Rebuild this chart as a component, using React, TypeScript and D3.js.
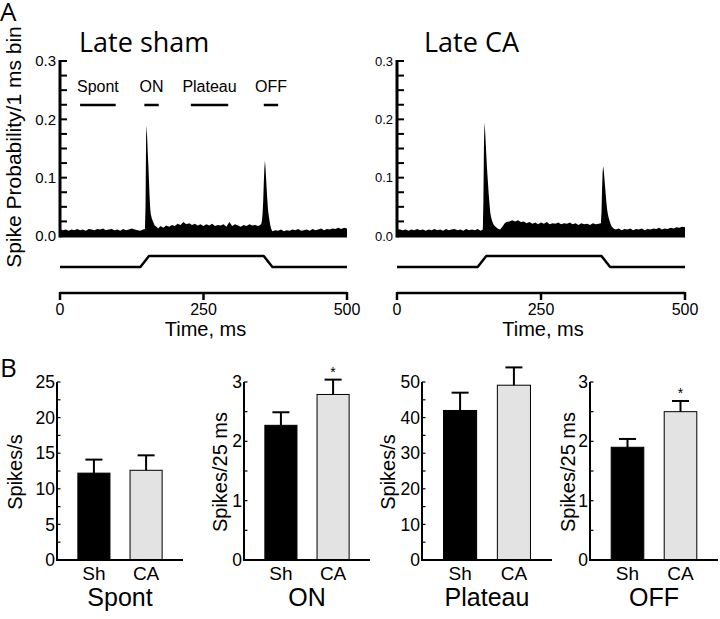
import React from 'react';
import * as d3 from 'd3';

// ---- panel A data ----
const probTicks = [0, 0.1, 0.2, 0.3];
const timeTicks = [0, 250, 500];
const stimTimes = [0, 140, 155, 355, 370, 500];
const stimLevels = [0, 0, 1, 1, 0, 0];
const windowNames = ['Spont', 'ON', 'Plateau', 'OFF'];
const windowStarts = [35, 147, 228, 355];
const windowEnds = [97, 172, 293, 380];

// [time ms, spike probability]
const shamPsth: [number, number][] = [
  [0, 0.012], [5, 0.010], [10, 0.011], [15, 0.009], [20, 0.011], [25, 0.010], [30, 0.012], [35, 0.010],
  [40, 0.011], [45, 0.009], [50, 0.012], [55, 0.011], [60, 0.010], [65, 0.012], [70, 0.011], [75, 0.013],
  [80, 0.010], [85, 0.011], [90, 0.012], [95, 0.010], [100, 0.011], [105, 0.009], [110, 0.012], [115, 0.010],
  [120, 0.011], [125, 0.013], [130, 0.011], [135, 0.010], [140, 0.009], [145, 0.011], [148, 0.012],
  [149, 0.05], [150, 0.17], [151, 0.19], [152, 0.165], [153, 0.14], [154, 0.12], [155, 0.095], [156, 0.07],
  [157, 0.05], [158, 0.038], [160, 0.03], [162, 0.025], [165, 0.018], [168, 0.016], [171, 0.013],
  [175, 0.017], [180, 0.014], [185, 0.018], [190, 0.016], [195, 0.019], [200, 0.017], [205, 0.021],
  [210, 0.019], [215, 0.024], [220, 0.020], [225, 0.022], [230, 0.019], [235, 0.021], [240, 0.018],
  [245, 0.020], [250, 0.017], [255, 0.020], [260, 0.018], [265, 0.021], [270, 0.017], [275, 0.019],
  [280, 0.018], [285, 0.020], [290, 0.016], [295, 0.024], [300, 0.017], [305, 0.020], [310, 0.018],
  [315, 0.016], [320, 0.019], [325, 0.017], [330, 0.020], [335, 0.018], [340, 0.019], [345, 0.017],
  [349, 0.019], [351, 0.022], [352, 0.028], [353, 0.04], [354, 0.06], [355, 0.09], [356, 0.115],
  [357, 0.129], [358, 0.118], [359, 0.10], [360, 0.082], [361, 0.065], [362, 0.05], [363, 0.04],
  [364, 0.033], [366, 0.02], [368, 0.012], [370, 0.008], [375, 0.010], [380, 0.009], [385, 0.011],
  [390, 0.008], [395, 0.010], [400, 0.009], [405, 0.011], [410, 0.010], [415, 0.012], [420, 0.009],
  [425, 0.010], [430, 0.011], [435, 0.009], [440, 0.012], [445, 0.010], [450, 0.011], [455, 0.013],
  [460, 0.010], [465, 0.012], [470, 0.011], [475, 0.013], [480, 0.012], [485, 0.014], [490, 0.012],
  [495, 0.014], [500, 0.013],
];

const caPsth: [number, number][] = [
  [0, 0.012], [5, 0.011], [10, 0.010], [15, 0.011], [20, 0.009], [25, 0.011], [30, 0.010], [35, 0.012],
  [40, 0.010], [45, 0.011], [50, 0.009], [55, 0.011], [60, 0.010], [65, 0.012], [70, 0.010], [75, 0.011],
  [80, 0.009], [85, 0.012], [90, 0.010], [95, 0.011], [100, 0.012], [105, 0.010], [110, 0.011], [115, 0.009],
  [120, 0.012], [125, 0.010], [130, 0.011], [135, 0.010], [140, 0.012], [145, 0.009], [149, 0.011],
  [150, 0.06], [151, 0.16], [152, 0.195], [153, 0.18], [154, 0.16], [155, 0.14], [156, 0.12], [157, 0.105],
  [158, 0.09], [159, 0.075], [160, 0.062], [161, 0.05], [162, 0.04], [163, 0.034], [165, 0.026],
  [168, 0.019], [172, 0.015], [176, 0.012], [179, 0.011], [183, 0.016], [187, 0.022], [190, 0.024],
  [195, 0.025], [200, 0.027], [205, 0.025], [210, 0.027], [215, 0.024], [220, 0.025], [225, 0.022],
  [230, 0.024], [235, 0.021], [240, 0.023], [245, 0.020], [250, 0.023], [255, 0.021], [260, 0.024],
  [265, 0.020], [270, 0.022], [275, 0.021], [280, 0.023], [285, 0.020], [290, 0.022], [295, 0.021],
  [300, 0.023], [305, 0.020], [310, 0.022], [315, 0.019], [320, 0.022], [325, 0.020], [330, 0.021],
  [335, 0.019], [340, 0.022], [345, 0.020], [350, 0.021], [354, 0.022], [355, 0.04], [356, 0.08],
  [357, 0.11], [358, 0.12], [359, 0.112], [360, 0.10], [361, 0.088], [362, 0.076], [363, 0.064],
  [364, 0.053], [365, 0.044], [366, 0.038], [367, 0.033], [369, 0.026], [371, 0.02], [373, 0.016],
  [376, 0.013], [380, 0.011], [385, 0.013], [390, 0.010], [395, 0.012], [400, 0.011], [405, 0.013],
  [410, 0.010], [415, 0.012], [420, 0.011], [425, 0.013], [430, 0.010], [435, 0.012], [440, 0.011],
  [445, 0.013], [450, 0.012], [455, 0.014], [460, 0.011], [465, 0.013], [470, 0.012], [475, 0.014],
  [480, 0.013], [485, 0.015], [490, 0.014], [495, 0.016], [500, 0.015],
];

// ---- panel B data ----
const groups = ['Sh', 'CA'];
const measureNames = ['Spont', 'ON', 'Plateau', 'OFF'];
const measureUnits = ['Spikes/s', 'Spikes/25 ms', 'Spikes/s', 'Spikes/25 ms'];
const shMeans = [12.2, 2.27, 42.0, 1.9];
const shErr = [1.9, 0.22, 5.0, 0.14];
const caMeans = [12.6, 2.79, 49.1, 2.5];
const caErr = [2.1, 0.25, 5.0, 0.18];
const axisMax = [25, 3, 50, 3];
const labelStep = [5, 1, 10, 1];
const significant = [false, true, false, true];

const arial = 'Liberation Sans, Arial, sans-serif';
const myriad = 'Open Sans, sans-serif';

// layout for the bar charts
const barAxisX = [57, 244, 422, 590];
const barAxisW = [126, 126, 130, 128];
const unitLabelX = [15, 220, 388, 568];

function Psth({ data, range, title, titleX, tickFont, withWindows }: {
  data: [number, number][]; range: [number, number]; title: string; titleX: number;
  tickFont: number; withWindows: boolean;
}) {
  const x = d3.scaleLinear().domain([0, 500]).range(range);
  const y = d3.scaleLinear().domain([0, 0.3]).range([236, 61]);
  const ys = d3.scaleLinear().domain([0, 1]).range([267, 256]);
  const area = d3.area<[number, number]>()
    .x(d => x(d[0]))
    .y0(y(0))
    .y1(d => y(d[1]));
  const stim = d3.line<number>()
    .x((_, i) => x(stimTimes[i]))
    .y(d => ys(d));
  const minor = d3.range(0, 0.3001, 0.025);
  const ax = range[0];

  return (
    <g>
      <text x={titleX} y={52} fontFamily={myriad} fontSize={27}>{title}</text>
      <path d={area(data) ?? ''} fill="#000" />
      <line x1={ax} x2={range[1]} y1={y(0)} y2={y(0)} stroke="#000" strokeWidth={3} />
      <line x1={ax} x2={ax} y1={y(0.3) - 1} y2={y(0) + 1.5} stroke="#000" strokeWidth={3} />
      {minor.map((t, i) => (
        <line key={i} x1={ax} x2={ax + 7} y1={y(t)} y2={y(t)} stroke="#000" strokeWidth={2} />
      ))}
      {probTicks.map(t => (
        <text key={t} x={ax - 4} y={y(t)} dy="0.35em" textAnchor="end"
          fontFamily={arial} fontSize={tickFont}>{t.toFixed(1)}</text>
      ))}
      {withWindows && windowNames.map((n, i) => (
        <g key={n}>
          <line x1={x(windowStarts[i])} x2={x(windowEnds[i])} y1={105} y2={105}
            stroke="#000" strokeWidth={2.5} />
          <text x={(x(windowStarts[i]) + x(windowEnds[i])) / 2} y={92} textAnchor="middle"
            fontFamily={arial} fontSize={16}>{n}</text>
        </g>
      ))}
      <path d={stim(stimLevels) ?? ''} fill="none" stroke="#000" strokeWidth={2.5}
        strokeLinejoin="round" />
      <line x1={x(0)} x2={x(500)} y1={293} y2={293} stroke="#000" strokeWidth={2.5} />
      {timeTicks.map(t => (
        <g key={t}>
          <line x1={x(t)} x2={x(t)} y1={292} y2={300} stroke="#000" strokeWidth={2.5} />
          <text x={x(t)} y={315} textAnchor="middle" fontFamily={arial} fontSize={16}>{t}</text>
        </g>
      ))}
      <text x={x(250) + 2} y={336} textAnchor="middle" fontFamily={arial} fontSize={20}>Time, ms</text>
    </g>
  );
}

function BarPanel({ i }: { i: number }) {
  const left = barAxisX[i];
  const w = barAxisW[i];
  const y = d3.scaleLinear().domain([0, axisMax[i]]).range([560, 382]);
  const xb = d3.scaleBand<string>().domain(groups).range([left, left + w])
    .paddingInner(0.385).paddingOuter(0.4);
  const means = [shMeans[i], caMeans[i]];
  const errs = [shErr[i], caErr[i]];
  const fills = ['#000', '#e3e3e3'];
  const major = d3.range(0, axisMax[i] + 1e-9, labelStep[i]);
  const minor = d3.range(0, axisMax[i] + 1e-9, labelStep[i] / 2);
  const bw = xb.bandwidth();
  const mid = left + w / 2;

  return (
    <g>
      {groups.map((g, k) => {
        const cx = (xb(g) ?? 0) + bw / 2;
        const top = y(means[k] + errs[k]);
        return (
          <g key={g}>
            <rect x={xb(g)} y={y(means[k])} width={bw} height={y(0) - y(means[k])}
              fill={fills[k]} stroke="#000" strokeWidth={1} />
            <line x1={cx} x2={cx} y1={y(means[k])} y2={top} stroke="#000" strokeWidth={2} />
            <line x1={cx - 8.5} x2={cx + 8.5} y1={top} y2={top} stroke="#000" strokeWidth={2} />
            {k === 1 && significant[i] && (
              <text x={cx} y={top - 3} textAnchor="middle" fontFamily={arial} fontSize={14}>*</text>
            )}
            <text x={cx} y={580} textAnchor="middle" fontFamily={arial} fontSize={19}>{g}</text>
          </g>
        );
      })}
      <line x1={left} x2={left} y1={y(axisMax[i])} y2={y(0)} stroke="#000" strokeWidth={2} />
      <line x1={left - 1} x2={left + w} y1={y(0)} y2={y(0)} stroke="#000" strokeWidth={2} />
      {minor.map((t, k) => (
        <line key={k} x1={left} x2={left + 3.5} y1={y(t)} y2={y(t)} stroke="#000" strokeWidth={1.2} />
      ))}
      {major.map(t => (
        <text key={t} x={left - 2} y={y(t)} dy="0.35em" textAnchor="end"
          fontFamily={arial} fontSize={17.5}>{t}</text>
      ))}
      <text transform={`translate(${unitLabelX[i]},${472}) rotate(-90)`} dy="0.35em"
        textAnchor="middle" fontFamily={arial} fontSize={20}>{measureUnits[i]}</text>
      <text x={mid} y={606} textAnchor="middle" fontFamily={arial} fontSize={25}>{measureNames[i]}</text>
    </g>
  );
}

export default function App() {
  return (
    <svg width={720} height={619} style={{ position: 'absolute', left: 0, top: 0, background: '#fff' }}>
      <rect width={720} height={619} fill="#fff" />
      <text x={0} y={21} fontFamily={myriad} fontSize={26}>A</text>
      <text x={0} y={377} fontFamily={myriad} fontSize={26}>B</text>
      <text transform="translate(14,147) rotate(-90)" dy="0.35em" textAnchor="middle"
        fontFamily={arial} fontSize={21}>Spike Probability/1 ms bin</text>
      <Psth data={shamPsth} range={[60, 347]} title="Late sham" titleX={79} tickFont={15} withWindows />
      <Psth data={caPsth} range={[397, 685]} title="Late CA" titleX={424} tickFont={13} withWindows={false} />
      {measureNames.map((_, i) => <BarPanel key={i} i={i} />)}
    </svg>
  );
}
